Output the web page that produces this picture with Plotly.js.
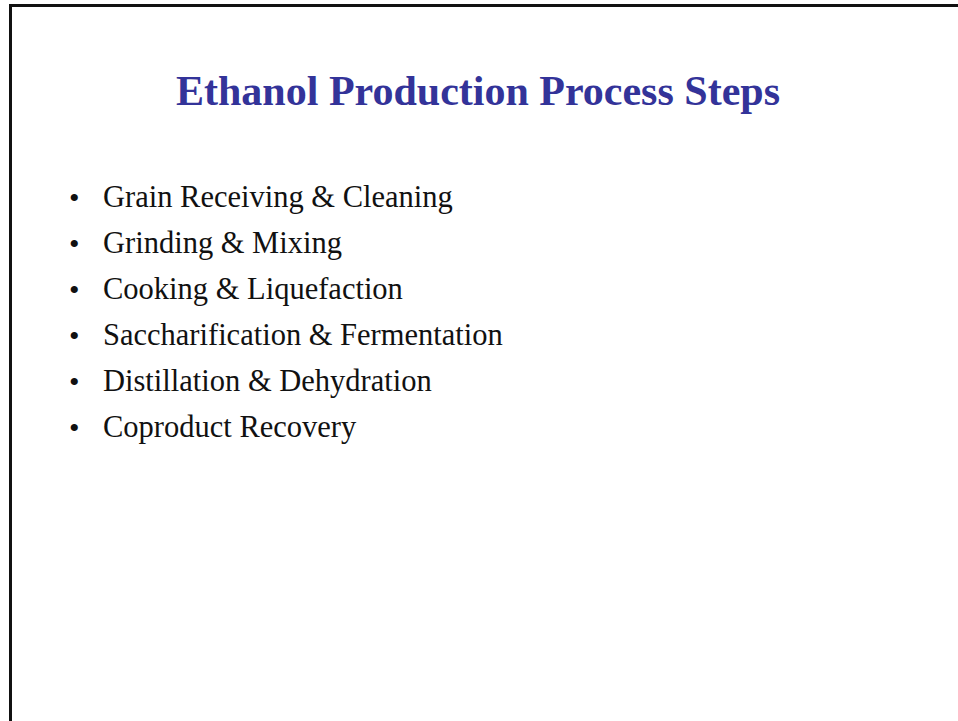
<!DOCTYPE html>
<html>
<head>
<meta charset="utf-8">
<script src="https://cdn.plot.ly/plotly-3.0.1.min.js"></script>
<style>html,body{margin:0;padding:0;background:#fff;}#chart{width:958px;height:721px;}</style>
</head>
<body>
<div id="chart"></div>
<script>
const slideTitle = "Ethanol Production Process Steps";
const steps = [
  "Grain Receiving & Cleaning",
  "Grinding & Mixing",
  "Cooking & Liquefaction",
  "Saccharification & Fermentation",
  "Distillation & Dehydration",
  "Coproduct Recovery"
];

const W = 958, H = 721;
const firstY = 197, stepGap = 46;
const annotations = [];
annotations.push({
  x: 478, y: 91, xref: 'x', yref: 'y', text: '<b>' + slideTitle + '</b>',
  showarrow: false, xanchor: 'center', yanchor: 'middle',
  font: {family: 'Liberation Serif, Times New Roman, serif', size: 42, color: '#333399'}
});
steps.forEach((s, i) => {
  const y = firstY + i * stepGap;
  annotations.push({x: 74, y: y, xref: 'x', yref: 'y', text: '•', showarrow: false,
    xanchor: 'center', yanchor: 'middle',
    font: {family: 'Liberation Serif, serif', size: 30, color: '#111'}});
  annotations.push({x: 101, y: y, xref: 'x', yref: 'y', text: s.replace(/&/g, '&amp;'), showarrow: false,
    xanchor: 'left', yanchor: 'middle',
    font: {family: 'Liberation Serif, Times New Roman, serif', size: 30.5, color: '#111'}});
});

const layout = {
  width: W, height: H,
  margin: {l: 0, r: 0, t: 0, b: 0},
  paper_bgcolor: '#fff', plot_bgcolor: '#fff',
  xaxis: {range: [0, W], visible: false, fixedrange: true},
  yaxis: {range: [H, 0], visible: false, fixedrange: true},
  showlegend: false,
  annotations: annotations,
  shapes: [
    {type: 'line', xref: 'x', yref: 'y', x0: 10, x1: W, y0: 5.5, y1: 5.5, line: {color: '#111', width: 3}},
    {type: 'line', xref: 'x', yref: 'y', x0: 10.5, x1: 10.5, y0: 4, y1: H, line: {color: '#111', width: 3}}
  ]
};
Plotly.newPlot('chart', [], layout, {staticPlot: true, displayModeBar: false});
</script>
</body>
</html>
